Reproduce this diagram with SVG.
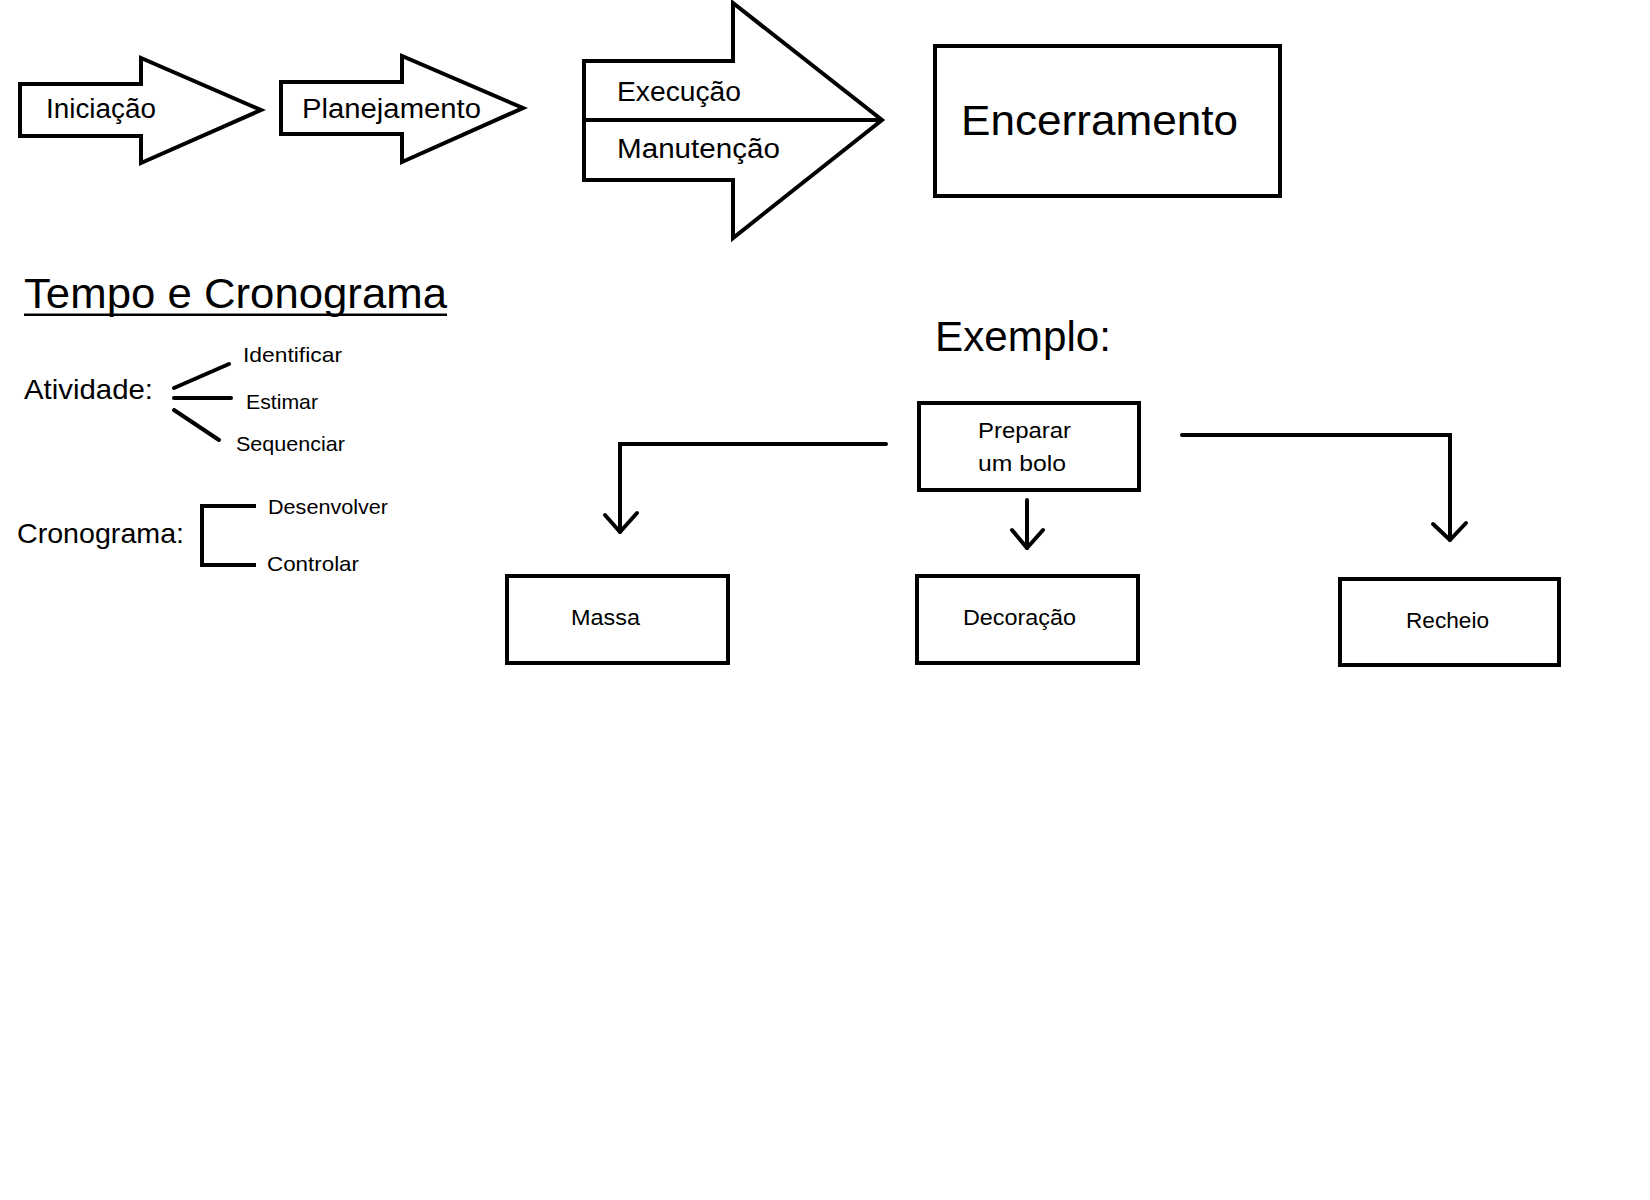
<svg xmlns="http://www.w3.org/2000/svg" width="1650" height="1200" viewBox="0 0 1650 1200">
<style>
.shape{fill:#fff;stroke:#000;stroke-width:4;stroke-linejoin:miter}
.ln{fill:none;stroke:#000;stroke-width:4;stroke-linecap:round;stroke-linejoin:round}
text{font-family:"Liberation Sans",Arial,sans-serif;fill:#000}
.t27{font-size:27px}.t42{font-size:42px}.t28{font-size:28px}.t21{font-size:21px}.t22{font-size:22px}
</style>
<rect width="1650" height="1200" fill="#fff"/>
<g id="iniciacao">
<polygon class="shape" points="20,84 141,84 141,58 261,110 141,163 141,136 20,136"/>
<text class="t27" x="46" y="118" textLength="110" lengthAdjust="spacingAndGlyphs">Iniciação</text>
</g>
<g id="planejamento">
<polygon class="shape" points="281,82 402,82 402,56 523,108 402,162 402,134 281,134"/>
<text class="t27" x="302" y="118" textLength="179" lengthAdjust="spacingAndGlyphs">Planejamento</text>
</g>
<g id="execucao">
<polygon class="shape" points="584,61 733,61 733,3 882,120 733,238 733,180 584,180"/>
<line class="shape" x1="584" y1="120" x2="882" y2="120"/>
<text class="t27" x="617" y="101" textLength="124" lengthAdjust="spacingAndGlyphs">Execução</text>
<text class="t27" x="617" y="158" textLength="163" lengthAdjust="spacingAndGlyphs">Manutenção</text>
</g>
<g id="encerramento">
<rect class="shape" x="935" y="46" width="345" height="150"/>
<text class="t42" x="961" y="135" textLength="277" lengthAdjust="spacingAndGlyphs">Encerramento</text>
</g>
<g id="tempo">
<text class="t42" x="24" y="308" textLength="423" lengthAdjust="spacingAndGlyphs">Tempo e Cronograma</text>
<rect x="24" y="313.5" width="423" height="2.5" fill="#000"/>
</g>
<g id="atividade">
<text class="t28" x="24" y="399" textLength="129" lengthAdjust="spacingAndGlyphs">Atividade:</text>
<line class="ln" x1="174" y1="388" x2="229" y2="364"/>
<line class="ln" x1="174" y1="398" x2="231" y2="398"/>
<line class="ln" x1="174" y1="410" x2="219" y2="440"/>
<text class="t21" x="243" y="362" textLength="99" lengthAdjust="spacingAndGlyphs">Identificar</text>
<text class="t21" x="246" y="409" textLength="72" lengthAdjust="spacingAndGlyphs">Estimar</text>
<text class="t21" x="236" y="451" textLength="109" lengthAdjust="spacingAndGlyphs">Sequenciar</text>
</g>
<g id="cronograma">
<text class="t28" x="17" y="543" textLength="167" lengthAdjust="spacingAndGlyphs">Cronograma:</text>
<polyline class="ln" style="stroke-linejoin:miter;stroke-linecap:butt" points="256,506 202,506 202,565 256,565"/>
<text class="t21" x="268" y="514" textLength="120" lengthAdjust="spacingAndGlyphs">Desenvolver</text>
<text class="t21" x="267" y="571" textLength="92" lengthAdjust="spacingAndGlyphs">Controlar</text>
</g>
<g id="exemplo">
<text class="t42" x="935" y="351" textLength="176" lengthAdjust="spacingAndGlyphs">Exemplo:</text>
</g>
<g id="preparar">
<rect class="shape" x="919" y="403" width="220" height="87"/>
<text class="t22" x="978" y="438" textLength="93" lengthAdjust="spacingAndGlyphs">Preparar</text>
<text class="t22" x="978" y="471" textLength="88" lengthAdjust="spacingAndGlyphs">um bolo</text>
</g>
<g id="massa">
<rect class="shape" x="507" y="576" width="221" height="87"/>
<text class="t22" x="571" y="625" textLength="69" lengthAdjust="spacingAndGlyphs">Massa</text>
</g>
<g id="decoracao">
<rect class="shape" x="917" y="576" width="221" height="87"/>
<text class="t22" x="963" y="625" textLength="113" lengthAdjust="spacingAndGlyphs">Decoração</text>
</g>
<g id="recheio">
<rect class="shape" x="1340" y="579" width="219" height="86"/>
<text class="t22" x="1406" y="628" textLength="83" lengthAdjust="spacingAndGlyphs">Recheio</text>
</g>
<g id="connectors">
<polyline class="ln" style="stroke-linejoin:miter" points="886,444 620,444 620,532"/>
<polyline class="ln" points="605,515 620,532 637,513"/>
<line class="ln" x1="1027" y1="500" x2="1027" y2="548"/>
<polyline class="ln" points="1012,530 1027,548 1043,530"/>
<polyline class="ln" style="stroke-linejoin:miter" points="1182,435 1450,435 1450,540"/>
<polyline class="ln" points="1433,524 1450,540 1466,523"/>
</g>
</svg>
